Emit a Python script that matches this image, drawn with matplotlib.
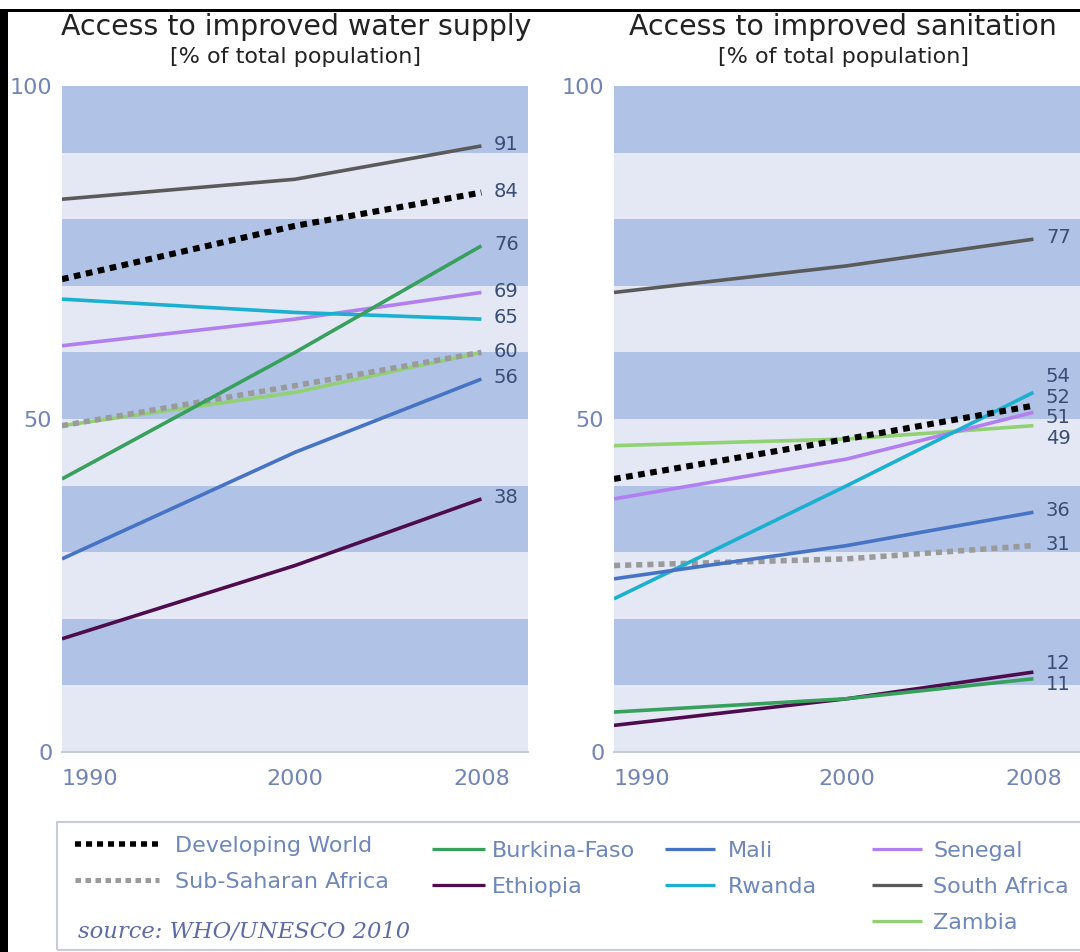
import numpy as np
import matplotlib
matplotlib.use("Agg")
import matplotlib.pyplot as plt
from matplotlib.lines import Line2D
from matplotlib.patches import Rectangle

years = [1990, 2000, 2008]
series = ["Developing World", "Sub-Saharan Africa", "Burkina-Faso", "Ethiopia",
          "Mali", "Rwanda", "Senegal", "South Africa", "Zambia"]

# % of total population, 1990 / 2000 / 2008
water_dev_world = [71, 79, 84]
water_ssa = [49, 55, 60]
water_burkina = [41, 60, 76]
water_ethiopia = [17, 28, 38]
water_mali = [29, 45, 56]
water_rwanda = [68, 66, 65]
water_senegal = [61, 65, 69]
water_south_africa = [83, 86, 91]
water_zambia = [49, 54, 60]

san_dev_world = [41, 47, 52]
san_ssa = [28, 29, 31]
san_burkina = [6, 8, 11]
san_ethiopia = [4, 8, 12]
san_mali = [26, 31, 36]
san_rwanda = [23, 40, 54]
san_senegal = [38, 44, 51]
san_south_africa = [69, 73, 77]
san_zambia = [46, 47, 49]

water = [water_dev_world, water_ssa, water_burkina, water_ethiopia, water_mali,
         water_rwanda, water_senegal, water_south_africa, water_zambia]
sanitation = [san_dev_world, san_ssa, san_burkina, san_ethiopia, san_mali,
              san_rwanda, san_senegal, san_south_africa, san_zambia]

styles = {
    "Developing World": dict(color="black", lw=4.4, ls=(0, (1.1, 0.9))),
    "Sub-Saharan Africa": dict(color="#9a9a9a", lw=4.0, ls=(0, (1.1, 0.9))),
    "Burkina-Faso": dict(color="#37a05c", lw=2.6, ls="-"),
    "Ethiopia": dict(color="#4e0b4e", lw=2.6, ls="-"),
    "Mali": dict(color="#4673c4", lw=2.6, ls="-"),
    "Rwanda": dict(color="#1bb0cf", lw=2.6, ls="-"),
    "Senegal": dict(color="#b27ff0", lw=2.6, ls="-"),
    "South Africa": dict(color="#5a5a5a", lw=2.6, ls="-"),
    "Zambia": dict(color="#92d173", lw=2.6, ls="-"),
}
draw_order = ["Zambia", "Sub-Saharan Africa", "Senegal", "Rwanda", "Mali",
              "Ethiopia", "Burkina-Faso", "South Africa", "Developing World"]

tick_col = "#7084b6"
val_col = "#3a4d76"
band_dark = "#b0c3e6"
band_light = "#e3e8f4"


def spread(vals, gap):
    # push end labels apart so they don't overlap
    order = np.argsort(vals)
    pos = np.array(vals, float)[order]
    for _ in range(200):
        moved = False
        for i in range(1, len(pos)):
            d = pos[i] - pos[i - 1]
            if d < gap - 1e-6:
                s = (gap - d) / 2
                pos[i] += s
                pos[i - 1] -= s
                moved = True
        if not moved:
            break
    out = np.empty_like(pos)
    out[order] = pos
    return out


def panel(ax, data):
    for lo in range(0, 100, 10):
        c = band_dark if (lo // 10) % 2 == 1 else band_light
        ax.axhspan(lo, lo + 10, color=c, lw=0, zorder=0)
    for name in draw_order:
        vals = data[series.index(name)]
        st = styles[name]
        ax.plot(years, vals, color=st["color"], lw=st["lw"], ls=st["ls"],
                solid_capstyle="butt", dash_capstyle="butt", zorder=3)
    ends = sorted(set(v[-1] for v in data))
    ypos = spread(ends, 3.1)
    for v, yp in zip(ends, ypos):
        ax.annotate(str(v), xy=(years[-1], yp), xytext=(9, 1),
                    textcoords="offset points", ha="left", va="center",
                    fontsize=14, color=val_col, annotation_clip=False)
    ax.set_xlim(1990, 2010)
    ax.set_ylim(0, 100)
    ax.set_yticks([0, 50, 100])
    ax.set_xticks(years)
    ax.set_xticklabels([str(y) for y in years])
    ax.get_xticklabels()[0].set_ha("left")
    ax.get_xticklabels()[0].set_x(1989.8)
    ax.tick_params(axis="both", length=0, labelsize=16, labelcolor=tick_col)
    ax.tick_params(axis="x", pad=12)
    ax.tick_params(axis="y", pad=7)
    for s in ["top", "right", "left"]:
        ax.spines[s].set_visible(False)
    ax.spines["bottom"].set_color("#c5cbd9")
    ax.spines["bottom"].set_linewidth(1.5)


fig = plt.figure(figsize=(10.8, 9.52), dpi=100)
ax1 = fig.add_axes([62 / 1080, 1 - 752 / 952, 466 / 1080, 666 / 952])
ax2 = fig.add_axes([614 / 1080, 1 - 752 / 952, 466 / 1080, 666 / 952])
panel(ax1, water)
panel(ax2, sanitation)

fig.text(296 / 1080, 1 - 27 / 952, "Access to improved water supply",
         ha="center", va="center", fontsize=20.4, color="#222222")
fig.text(296 / 1080, 1 - 57 / 952, "[% of total population]",
         ha="center", va="center", fontsize=16, color="#222222")
fig.text(843 / 1080, 1 - 27 / 952, "Access to improved sanitation",
         ha="center", va="center", fontsize=20.4, color="#222222")
fig.text(843 / 1080, 1 - 57 / 952, "[% of total population]",
         ha="center", va="center", fontsize=16, color="#222222")

# legend frame
fig.patches.append(Rectangle((57 / 1080, 1 - 950 / 952), 1.0, 128 / 952,
                             transform=fig.transFigure, fill=False,
                             ec="#c8ccd8", lw=1.5))


def handle(name):
    st = styles[name]
    return Line2D([], [], color=st["color"], lw=st["lw"] * 0.9, ls=st["ls"],
                  solid_capstyle="butt", dash_capstyle="butt")


cols = [
    (["Developing World", "Sub-Saharan Africa"], 75, 836, 3.8, 0.68),
    (["Burkina-Faso", "Ethiopia"], 432, 841, 2.4, 0.3),
    (["Mali", "Rwanda"], 665, 841, 2.25, 0.58),
    (["Senegal", "South Africa", "Zambia"], 872, 841, 2.25, 0.5),
]
for names, px, py, hl, hp in cols:
    leg = fig.legend([handle(n) for n in names], names, loc="upper left",
                     bbox_to_anchor=(px / 1080, 1 - py / 952), frameon=False,
                     borderpad=0, borderaxespad=0, handlelength=hl,
                     handletextpad=hp, labelspacing=0.72, fontsize=16,
                     labelcolor="#6d87bb")

fig.text(78 / 1080, 1 - 932 / 952, "source: WHO/UNESCO 2010", ha="left",
         va="center", fontsize=16.3, style="italic", family="DejaVu Serif",
         color="#5b6ba3")

# black frame of the original picture
fig.patches.append(Rectangle((0, 1 - 12 / 952), 1, 3 / 952,
                             transform=fig.transFigure, color="black", lw=0))
fig.patches.append(Rectangle((0, 0), 8 / 1080, 1 - 10 / 952,
                             transform=fig.transFigure, color="black", lw=0))

fig.savefig("out.png", dpi=100)
